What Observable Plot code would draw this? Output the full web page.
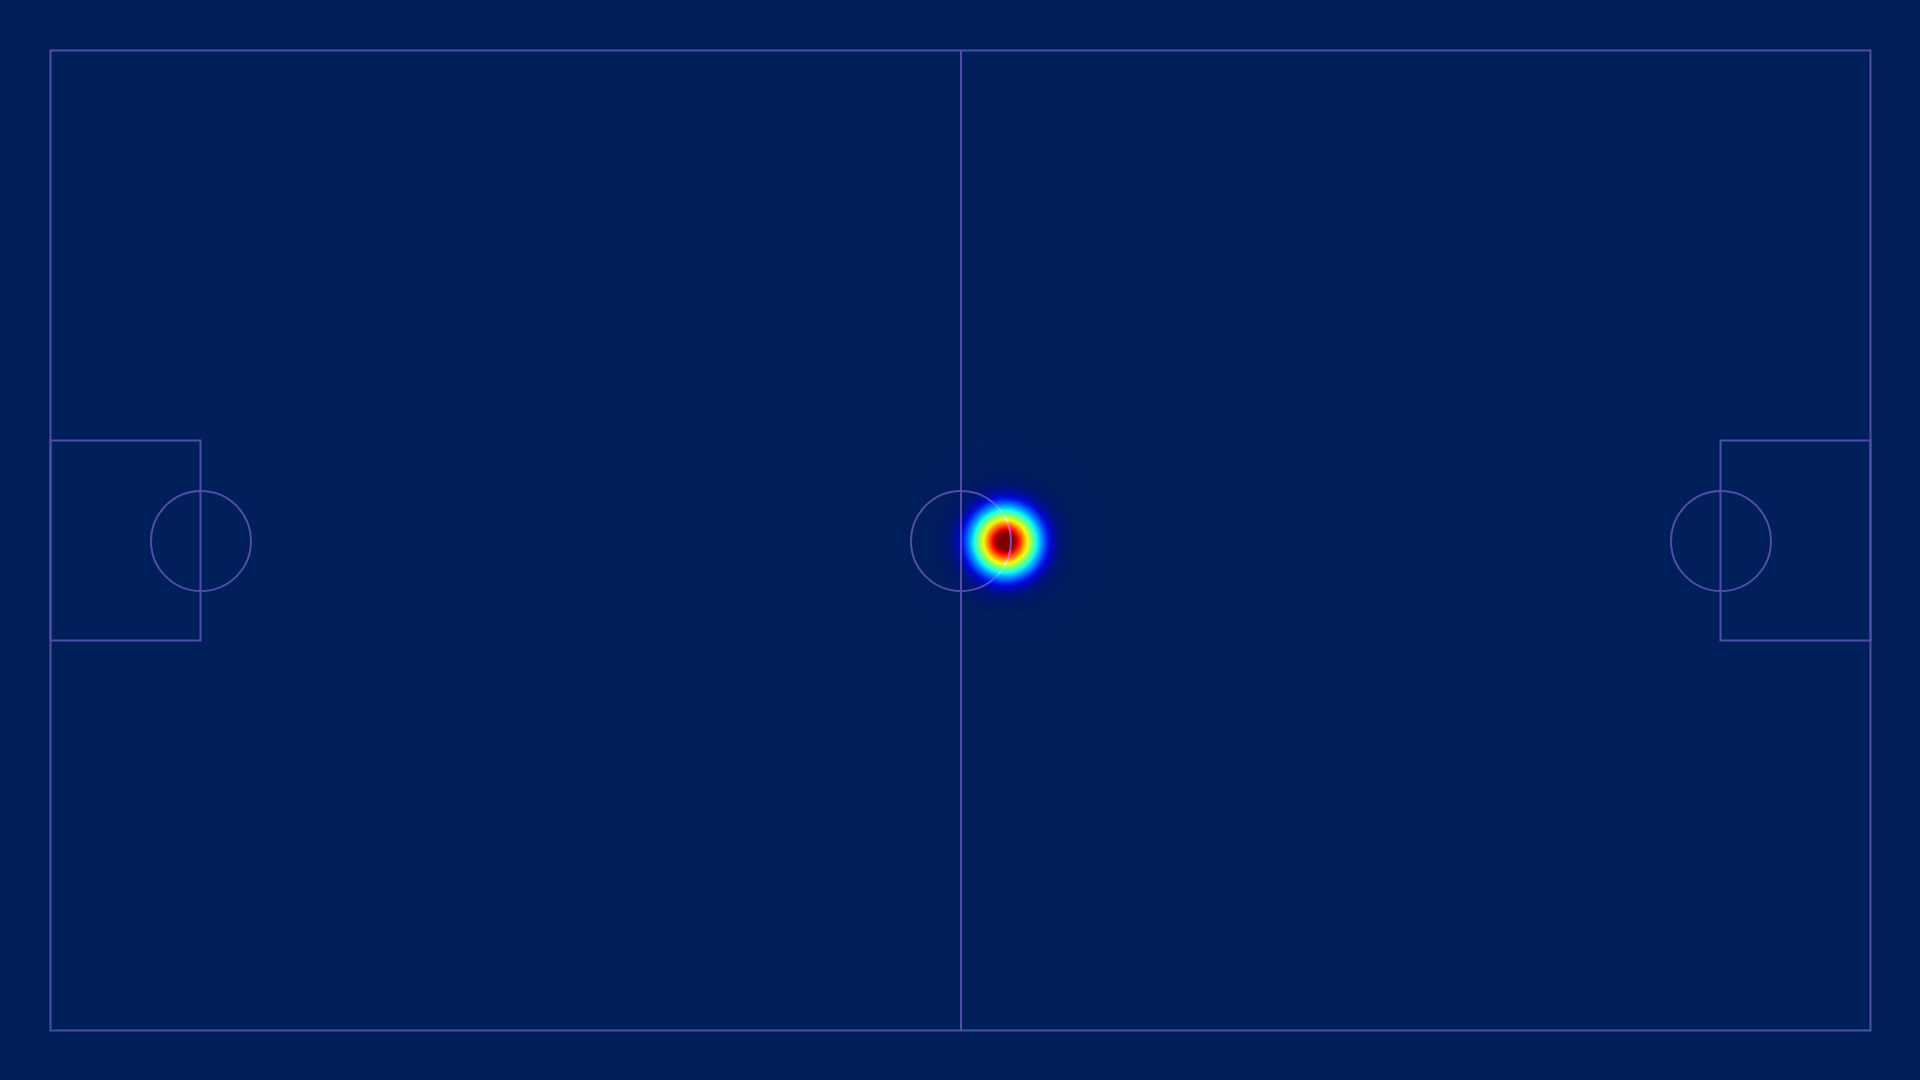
<!DOCTYPE html>
<html>
<head>
<meta charset="utf-8">
<script src="https://cdn.jsdelivr.net/npm/d3@7"></script>
<script src="https://cdn.jsdelivr.net/npm/@observablehq/plot@0.6"></script>
<style>
  html, body { margin: 0; padding: 0; background: #001f5b; overflow: hidden; }
  #chart svg { display: block; }
</style>
</head>
<body>
<div id="chart"></div>
<script>
// Event locations (pitch units, 182 x 98)
const eventX = [95.4, 95.6, 95.5, 95.5];
const eventY = [48.9, 48.9, 48.8, 49.0];
const bandwidth = 2.17;

// Pitch geometry
const pitchLength = 182;
const pitchWidth = 98;
const boxDepth = 15;
const boxTop = 39;
const boxBottom = 59;
const circleRadius = 5;
const circleCentersX = [15, 91, 167];
const circleCenterY = 49;

const W = 1920, H = 1080, M = 50;
const pxPerUnit = (W - 2 * M) / pitchLength;

// matplotlib "jet" colormap
function seg(pts, t) {
  for (let i = 1; i < pts.length; i++) {
    if (t <= pts[i][0]) {
      const [x0, y0] = pts[i - 1], [x1, y1] = pts[i];
      return y0 + (y1 - y0) * (t - x0) / (x1 - x0);
    }
  }
  return pts[pts.length - 1][1];
}
const jetR = [[0,0],[0.35,0],[0.66,1],[0.89,1],[1,0.5]];
const jetG = [[0,0],[0.125,0],[0.375,1],[0.64,1],[0.91,0],[1,0]];
const jetB = [[0,0.5],[0.11,1],[0.34,1],[0.65,0],[1,0]];
function jet(t) {
  t = Math.max(0, Math.min(1, t));
  return `rgb(${Math.round(255*seg(jetR,t))},${Math.round(255*seg(jetG,t))},${Math.round(255*seg(jetB,t))})`;
}

function density(x, y) {
  let s = 0;
  for (let i = 0; i < eventX.length; i++) {
    const dx = x - eventX[i], dy = y - eventY[i];
    s += Math.exp(-(dx * dx + dy * dy) / (2 * bandwidth * bandwidth));
  }
  return s;
}
const dmax = d3.max(eventX.map((x, i) => density(x, eventY[i])));
const vmax = 0.935 * dmax;

const lineColor = "#4f4fa8";
const lineStyle = { stroke: lineColor, strokeWidth: 2, mixBlendMode: "lighten", dx: 0.5, dy: 0.5 };

const boxes = [
  { x1: 0, x2: boxDepth, y1: boxTop, y2: boxBottom },
  { x1: pitchLength - boxDepth, x2: pitchLength, y1: boxTop, y2: boxBottom }
];
const circles = circleCentersX.map(x => ({ x, y: circleCenterY }));

const chart = Plot.plot({
  width: W,
  height: H,
  margin: M,
  x: { domain: [0, pitchLength], axis: null },
  y: { domain: [0, pitchWidth], axis: null },
  color: { type: "linear", domain: [0, vmax], clamp: true, interpolate: jet },
  opacity: { type: "identity" },
  style: { background: "#001f5b" },
  marks: [
    Plot.raster({
      x1: 0, y1: 0, x2: pitchLength, y2: pitchWidth,
      fill: (x, y) => density(x, y),
      fillOpacity: (x, y) => Math.pow(Math.min(1, density(x, y) / (0.2 * vmax)), 0.7),
      pixelSize: 1
    }),
    Plot.rect([{ x1: 0, x2: pitchLength, y1: 0, y2: pitchWidth }], { x1: "x1", x2: "x2", y1: "y1", y2: "y2", fill: "none", ...lineStyle }),
    Plot.rect(boxes, { x1: "x1", x2: "x2", y1: "y1", y2: "y2", fill: "none", ...lineStyle }),
    Plot.ruleX([pitchLength / 2], { y1: 0, y2: pitchWidth, ...lineStyle }),
    Plot.dot(circles, { x: "x", y: "y", r: circleRadius * pxPerUnit, fill: "none", ...lineStyle })
  ]
});
document.getElementById("chart").appendChild(chart);
</script>
</body>
</html>
